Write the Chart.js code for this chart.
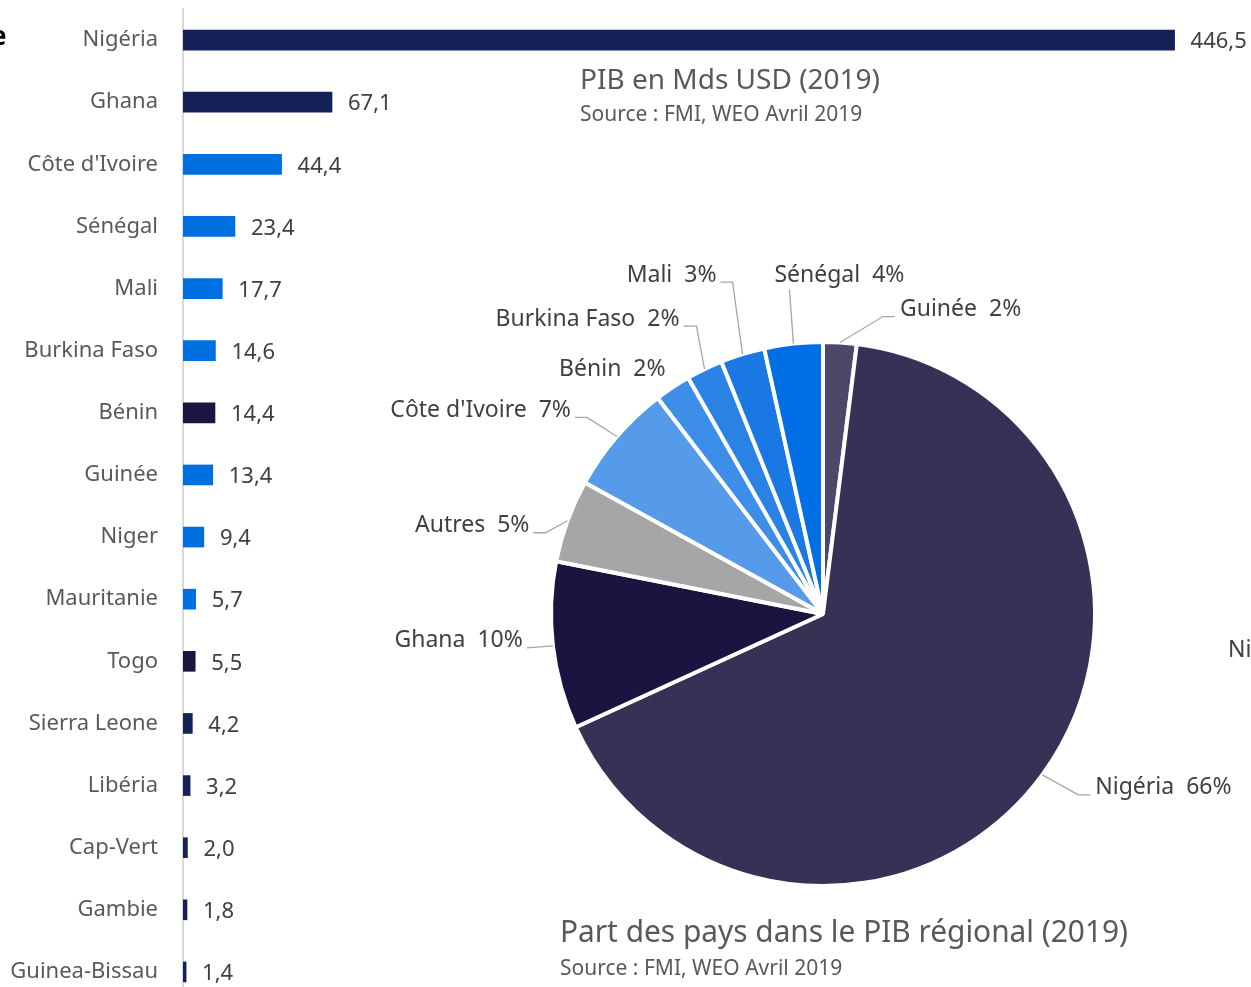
<!DOCTYPE html>
<html>
<head>
<meta charset="utf-8">
<script src="https://cdn.jsdelivr.net/npm/chart.js@4.4.1/dist/chart.umd.min.js"></script>
<style>
    html, body { margin: 0; padding: 0; background: #fff; overflow: hidden; }
    #wrap { position: relative; width: 1251px; height: 987px; overflow: hidden; }
    #barChart, #pieChart { position: absolute; left: 0; top: 0; }
</style>
</head>
<body>
<div id="wrap">
    <canvas id="barChart" width="1251" height="1012"></canvas>
    <canvas id="pieChart" width="1251" height="987"></canvas>
</div>
<script>
// PIB en Mds USD (2019)
const pays = ['Nigéria', 'Ghana', "Côte d'Ivoire", 'Sénégal', 'Mali', 'Burkina Faso', 'Bénin', 'Guinée',
    'Niger', 'Mauritanie', 'Togo', 'Sierra Leone', 'Libéria', 'Cap-Vert', 'Gambie', 'Guinea-Bissau'];
const pibMds = [446.5, 67.1, 44.4, 23.4, 17.7, 14.6, 14.4, 13.4, 9.4, 5.7, 5.5, 4.2, 3.2, 2.0, 1.8, 1.4];

// Part des pays dans le PIB régional (2019)
const partLabels = ['Guinée', 'Nigéria', 'Ghana', 'Autres', "Côte d'Ivoire", 'Bénin', 'Burkina Faso', 'Mali', 'Sénégal'];
const partValeurs = [13.4, 446.5, 67.1, 33.2, 44.4, 14.4, 14.6, 17.7, 23.4];
const partPourcent = [2, 66, 10, 5, 7, 2, 2, 3, 4];

const marine = '#142257';
const bleu = '#0070e0';
const violet = '#1b1540';
const couleursBarres = [marine, marine, bleu, bleu, bleu, bleu, violet, bleu,
    bleu, bleu, violet, marine, marine, marine, marine, marine];
const couleursParts = ['#4b4868', '#363155', '#1a1540', '#a6a6a6', '#559bea', '#3d8ee8', '#2a82e5', '#1a78e4', '#006fe6'];

// position des etiquettes du camembert, relative au bord de chaque part
const etiquettesPos = [
    { dx: 43, dy: -26, h: 12, cote: 'droite' },
    { dx: 36, dy: 20, h: 12, cote: 'droite' },
    { dx: -26, dy: 2, h: 0, cote: 'gauche' },
    { dx: -22, dy: 12, h: 12, cote: 'gauche' },
    { dx: -30, dy: -19, h: 12, cote: 'gauche' },
    { dx: -3, dy: -11, h: 0, cote: 'gauche', sansLigne: true },
    { dx: -8, dy: -43, h: 13, cote: 'gauche' },
    { dx: -10, dy: -72, h: 12, cote: 'gauche' },
    { dx: -4, dy: -54, h: 0, cote: 'haut' }
];

const police = '"Noto Sans", "Open Sans", sans-serif';

function formatValeur(v) {
    return v.toFixed(1).replace('.', ',');
}

const valeursPlugin = {
    id: 'valeurs',
    afterDatasetsDraw(chart) {
        const ctx = chart.ctx;
        const meta = chart.getDatasetMeta(0);
        ctx.save();
        ctx.font = '22px ' + police;
        ctx.fillStyle = '#404040';
        ctx.textBaseline = 'middle';
        ctx.textAlign = 'left';
        meta.data.forEach(function (bar, i) {
            ctx.fillText(formatValeur(pibMds[i]), bar.x + 16, bar.y + 2);
        });
        // morceau de legende coupe a gauche
        ctx.font = 'bold 26px ' + police;
        ctx.fillStyle = '#000';
        ctx.fillText('e', -9, 38);
        ctx.restore();
    }
};

function titre(ctx, texte, x, y, taille, largeur) {
    ctx.font = taille + 'px ' + police;
    ctx.fillText(texte, x, y, largeur);
}

const etiquettesPlugin = {
    id: 'etiquettes',
    afterDraw(chart) {
        const ctx = chart.ctx;
        const meta = chart.getDatasetMeta(0);
        ctx.save();
        ctx.strokeStyle = '#a6a6a6';
        ctx.lineWidth = 1.3;
        ctx.fillStyle = '#404040';
        ctx.font = '23px ' + police;
        ctx.textBaseline = 'middle';

        meta.data.forEach(function (arc, i) {
            const mid = (arc.startAngle + arc.endAngle) / 2;
            const ax = arc.x + Math.cos(mid) * arc.outerRadius;
            const ay = arc.y + Math.sin(mid) * arc.outerRadius;
            const p = etiquettesPos[i];
            const ex = ax + p.dx;
            const ey = ay + p.dy;
            const texte = partLabels[i] + '  ' + partPourcent[i] + '%';

            if (!p.sansLigne) {
                ctx.beginPath();
                ctx.moveTo(ax, ay);
                ctx.lineTo(ex, ey);
                if (p.cote === 'droite') ctx.lineTo(ex + p.h, ey);
                if (p.cote === 'gauche') ctx.lineTo(ex - p.h, ey);
                ctx.stroke();
            }

            if (p.cote === 'droite') {
                ctx.textAlign = 'left';
                ctx.fillText(texte, ex + p.h + 5, ey - 7);
            } else if (p.cote === 'gauche') {
                ctx.textAlign = 'right';
                ctx.fillText(texte, ex - p.h - 4, ey - 7);
            } else {
                ctx.textAlign = 'left';
                ctx.fillText(texte, ex - 15, ey - 14);
            }
        });

        // titres
        ctx.textAlign = 'left';
        ctx.fillStyle = '#595959';
        titre(ctx, 'PIB en Mds USD (2019)', 580, 81, 28, 324);
        titre(ctx, 'Source : FMI, WEO Avril 2019', 580, 115, 21, 305);
        titre(ctx, 'Part des pays dans le PIB régional (2019)', 560, 933, 31, 568);
        titre(ctx, 'Source : FMI, WEO Avril 2019', 560, 969, 21, 306);

        // morceau de legende coupe a droite
        ctx.fillStyle = '#404040';
        ctx.font = '23px ' + police;
        ctx.fillText('Ni', 1228, 650);
        ctx.restore();
    }
};

new Chart(document.getElementById('barChart'), {
    type: 'bar',
    data: {
        labels: pays,
        datasets: [{
            data: pibMds,
            backgroundColor: couleursBarres,
            barThickness: 20
        }]
    },
    options: {
        indexAxis: 'y',
        responsive: false,
        animation: false,
        events: [],
        layout: {
            padding: { top: 9, right: 2, bottom: 9, left: 0 }
        },
        plugins: {
            legend: { display: false },
            tooltip: { enabled: false }
        },
        scales: {
            x: {
                display: false,
                min: 0,
                max: 480
            },
            y: {
                afterFit: function (scale) {
                    scale.width = 183;
                    scale.paddingTop = 0;
                    scale.paddingBottom = 0;
                },
                grid: { display: false, drawTicks: false },
                border: { display: true, color: '#d9d9d9', width: 2 },
                ticks: {
                    color: '#595959',
                    padding: 25,
                    font: { family: police, size: 22 }
                }
            }
        }
    },
    plugins: [valeursPlugin]
});

new Chart(document.getElementById('pieChart'), {
    type: 'pie',
    data: {
        labels: partLabels,
        datasets: [{
            data: partValeurs,
            backgroundColor: couleursParts,
            borderColor: '#ffffff',
            borderWidth: 4
        }]
    },
    options: {
        responsive: false,
        animation: false,
        events: [],
        layout: {
            padding: { left: 549, right: 154, top: 340, bottom: 99 }
        },
        plugins: {
            legend: { display: false },
            tooltip: { enabled: false }
        }
    },
    plugins: [etiquettesPlugin]
});
</script>
</body>
</html>
